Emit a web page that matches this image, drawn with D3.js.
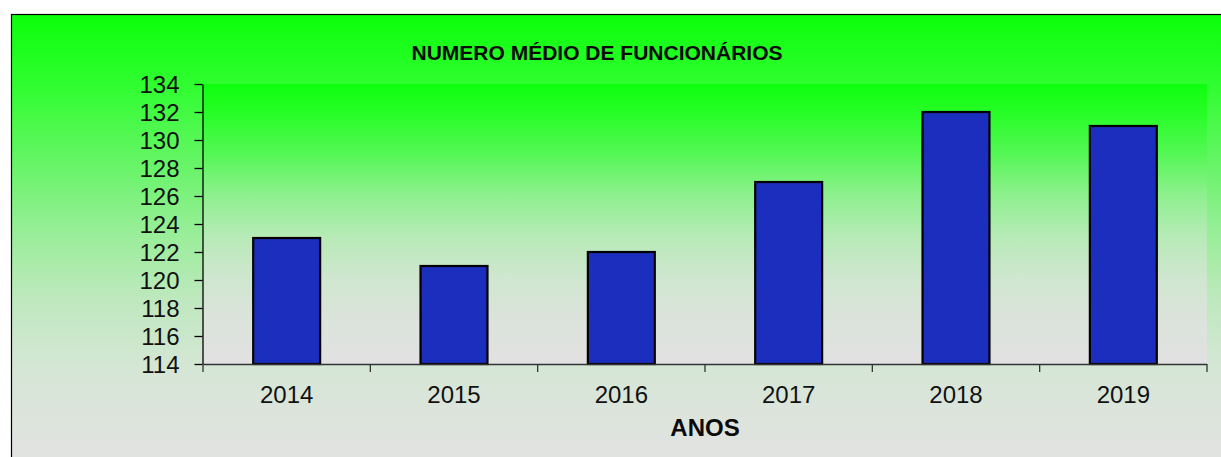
<!DOCTYPE html>
<html>
<head>
<meta charset="utf-8">
<script src="https://cdn.jsdelivr.net/npm/d3@7"></script>
<style>
  html, body { margin: 0; padding: 0; background: #ffffff; }
  svg { display: block; font-family: "Liberation Sans", Arial, sans-serif; }
</style>
</head>
<body>
<svg id="chart" width="1221" height="457"></svg>
<script>
// Average headcount per year
const years = ["2014", "2015", "2016", "2017", "2018", "2019"];
const headcount = [123, 121, 122, 127, 132, 131];
const yTicks = [114, 116, 118, 120, 122, 124, 126, 128, 130, 132, 134];
const titleText = "NUMERO MÉDIO DE FUNCIONÁRIOS";
const xAxisTitle = "ANOS";

const svg = d3.select("#chart");
const W = 1221, H = 457;
const plot = { left: 203, right: 1207, top: 84, bottom: 364 };

const defs = svg.append("defs");

// Chart-area background: green at the top fading into light grey
const outerGrad = defs.append("linearGradient")
  .attr("id", "outerGrad").attr("x1", 0).attr("y1", 0).attr("x2", 0).attr("y2", 1);
[[0, "#0bff0b"], [0.15, "#30fd30"], [0.3, "#62f562"], [0.45, "#96ee96"],
 [0.6, "#bfe8bf"], [0.75, "#d6e6d6"], [0.9, "#e0e3e0"], [1, "#e3e3e3"]]
  .forEach(([o, c]) => outerGrad.append("stop").attr("offset", o).attr("stop-color", c));

// Plot-area background: same idea over a shorter span
const plotGrad = defs.append("linearGradient")
  .attr("id", "plotGrad").attr("x1", 0).attr("y1", 0).attr("x2", 0).attr("y2", 1);
[[0, "#0eff0e"], [0.12, "#2bfd2b"], [0.25, "#55f755"], [0.4, "#8ff08f"],
 [0.55, "#b8eab8"], [0.7, "#d0e6d0"], [0.85, "#dce3dc"], [1, "#e1e1e1"]]
  .forEach(([o, c]) => plotGrad.append("stop").attr("offset", o).attr("stop-color", c));

// Outer frame (runs past the right and bottom edges)
svg.append("rect")
  .attr("x", 11.5).attr("y", 14.5)
  .attr("width", W + 20).attr("height", H + 20)
  .attr("fill", "url(#outerGrad)")
  .attr("stroke", "#000").attr("stroke-width", 1.2);

svg.append("rect")
  .attr("x", plot.left).attr("y", plot.top)
  .attr("width", plot.right - plot.left).attr("height", plot.bottom - plot.top)
  .attr("fill", "url(#plotGrad)");

// Scales
const x = d3.scaleBand().domain(years).range([plot.left, plot.right])
  .paddingInner(0.6).paddingOuter(0.3);
const xCat = d3.scaleBand().domain(years).range([plot.left, plot.right]);
const y = d3.scaleLinear().domain([114, 134]).range([plot.bottom, plot.top]);

// Bars
svg.append("g").selectAll("rect")
  .data(years.map((yr, i) => ({ yr, v: headcount[i] })))
  .join("rect")
  .attr("x", d => x(d.yr))
  .attr("y", d => y(d.v))
  .attr("width", x.bandwidth())
  .attr("height", d => y(114) - y(d.v))
  .attr("fill", "#1c2ebd")
  .attr("stroke", "#000")
  .attr("stroke-width", 2.2);

// Y axis
const yAxis = svg.append("g")
  .attr("transform", `translate(${plot.left - 0.5},0)`)
  .call(d3.axisLeft(y).tickValues(yTicks).tickSize(8).tickSizeOuter(0).tickPadding(15));
yAxis.select(".domain").attr("stroke", "#000").attr("stroke-width", 1.3);
yAxis.selectAll(".tick line").attr("stroke", "#000").attr("stroke-width", 1.3);
yAxis.selectAll(".tick text")
  .attr("font-size", 24).attr("fill", "#111")
  .attr("font-family", "Liberation Sans, Arial, sans-serif")
  .attr("dy", "0.36em");

// X axis: ticks on category boundaries
const boundaries = years.map(yr => xCat(yr)).concat([plot.right]);
const xAxisG = svg.append("g");
xAxisG.append("line")
  .attr("x1", plot.left).attr("x2", plot.right)
  .attr("y1", plot.bottom + 0.5).attr("y2", plot.bottom + 0.5)
  .attr("stroke", "#333").attr("stroke-width", 1.3);
xAxisG.selectAll("line.tk")
  .data(boundaries)
  .join("line").attr("class", "tk")
  .attr("x1", d => d).attr("x2", d => d)
  .attr("y1", plot.bottom).attr("y2", plot.bottom + 8)
  .attr("stroke", "#333").attr("stroke-width", 1.3);
xAxisG.selectAll("text")
  .data(years)
  .join("text")
  .attr("x", d => xCat(d) + xCat.bandwidth() / 2)
  .attr("y", 403)
  .attr("text-anchor", "middle")
  .attr("font-size", 24)
  .attr("fill", "#111")
  .text(d => d);

// Titles
svg.append("text")
  .attr("x", 597).attr("y", 60)
  .attr("text-anchor", "middle")
  .attr("font-size", 21).attr("font-weight", "bold")
  .attr("fill", "#0a0a0a")
  .text(titleText);

svg.append("text")
  .attr("x", (plot.left + plot.right) / 2).attr("y", 436)
  .attr("text-anchor", "middle")
  .attr("font-size", 24).attr("font-weight", "bold")
  .attr("fill", "#0a0a0a")
  .text(xAxisTitle);
</script>
</body>
</html>
